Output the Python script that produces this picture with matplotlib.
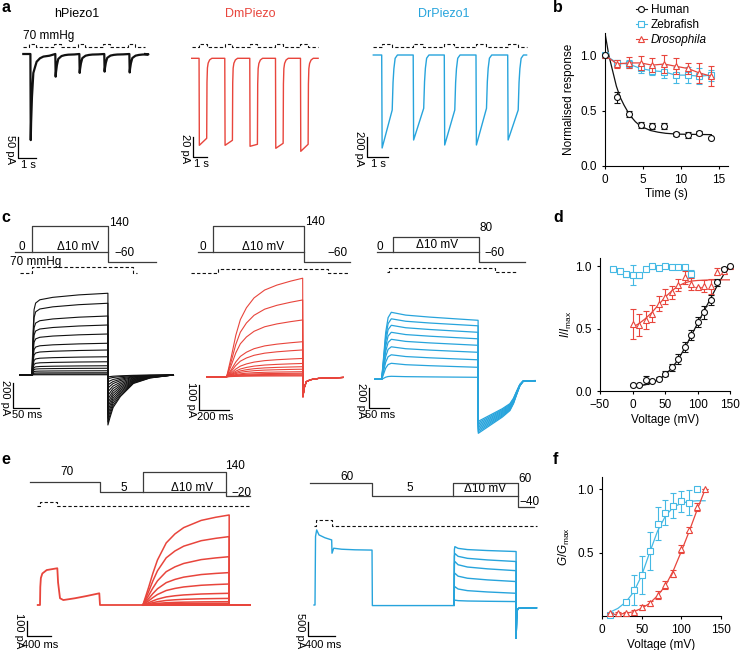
import matplotlib.pyplot as plt
from matplotlib.lines import Line2D

plt.rcParams.update({
    "font.family": ["Liberation Sans", "DejaVu Sans"],
    "font.size": 8.5,
    "axes.linewidth": 0.8,
    "xtick.major.width": 0.8,
    "ytick.major.width": 0.8,
    "xtick.major.size": 2.5,
    "ytick.major.size": 2.5,
    "xtick.labelsize": 8.5,
    "ytick.labelsize": 8.5,
    "mathtext.fontset": "custom",
    "mathtext.rm": "Liberation Sans",
    "mathtext.it": "Liberation Sans:italic",
})

BLACK = "#111111"
RED = "#E8453C"
BLUE = "#27A4DC"
CYAN = "#45B9E4"
PROT = "#3c3c3c"

# ── panel a: pressure pulse trains (s, pA) ────────────────────────────────────
A_H_ON = [0.31, 1.75, 3.14, 4.58, 6.03]
A_H_PEAK = [-205, -54, -45, -42, -44]
A_H_SHAPE_T = [0, 0.02, 0.04, 0.09, 0.17, 0.27, 0.36, 0.55, 0.75, 1.1]
A_H_SHAPE_F = [0, 1.0, 0.8, 0.5, 0.22, 0.15, 0.09, 0.05, 0.03, 0.02]

A_D_ON = [0.50, 2.25, 3.95, 5.70, 7.40]
A_D_START = [-87, -87, -88, -90, -93]
A_D_END = [-80, -82, -86, -85, -86]
A_D_REC_T = [0, 0.02, 0.05, 0.1, 0.2, 0.35]
A_D_REC_F = [1, 0.3, 0.12, 0.06, 0.02, 0]

A_R_ON = [0.40, 1.90, 3.38, 4.89, 6.40]
A_R_BOTTOM = [-930, -850, -900, -900, -850]
A_R_END = [-550, -533, -550, -533, -550]
A_R_REC_T = [0, 0.04, 0.08, 0.14, 0.25]
A_R_REC_F = [1, 0.5, 0.25, 0.06, 0]

# ── panel b: desensitisation (s, normalised) ──────────────────────────────────
B_T = [0, 1.6, 3.1, 4.7, 6.2, 7.8, 9.3, 10.9, 12.4, 14.0]
B_HUMAN = [1.0, 0.62, 0.47, 0.37, 0.36, 0.36, 0.29, 0.28, 0.30, 0.25]
B_HUMAN_ERR = [0, 0.05, 0.03, 0.03, 0.03, 0.03, 0.02, 0.03, 0.02, 0]
B_ZEBRA = [1.0, 0.93, 0.92, 0.88, 0.86, 0.85, 0.82, 0.82, 0.81, 0.82]
B_ZEBRA_ERR = [0, 0.03, 0.04, 0.04, 0.04, 0.06, 0.07, 0.07, 0.07, 0.05]
B_FLY = [1.0, 0.92, 0.93, 0.93, 0.91, 0.92, 0.90, 0.88, 0.84, 0.81]
B_FLY_ERR = [0, 0.04, 0.05, 0.06, 0.06, 0.08, 0.07, 0.05, 0.09, 0.09]
B_FIT_T = [0, 0.5, 1, 1.5, 2, 2.5, 3, 3.5, 4, 4.5, 5, 6, 7, 8, 9, 10, 12, 14]
B_FIT = [1.20, 1.00, 0.86, 0.72, 0.62, 0.55, 0.49, 0.44, 0.40, 0.37, 0.35,
         0.32, 0.305, 0.295, 0.29, 0.287, 0.285, 0.283]

# ── panel c: voltage families (ms, pA) ────────────────────────────────────────
C_K_END = [654, 574, 472, 400, 328, 254, 200, 146, 106, 74, 54, 34, 18, 8, 2]
C_K_TAIL = [-400, -375, -345, -315, -285, -255, -225, -195, -165, -135,
            -105, -80, -55, -30, -15]
C_K_RISE_T = [0, 2, 4, 7, 15, 40, 90, 146]
C_K_RISE_F = [0, 0.5, 0.8, 0.88, 0.92, 0.95, 0.98, 1.0]
C_K_TAIL_T = [0, 4, 10, 24, 49, 81, 126]
C_K_TAIL_F = [1, 0.85, 0.65, 0.43, 0.17, 0.06, 0]

C_R_END = [394, 307, 227, 140, 107, 73, 53, 40, 30, 20, 14, 10, 6, 3]
C_R_RISE_T = [0, 30, 60, 90, 130, 180, 250, 330, 420, 500]
C_R_RISE_F = [0, 0.2, 0.42, 0.58, 0.70, 0.80, 0.88, 0.93, 0.97, 1.0]
C_R_TAIL_T = [0, 8, 22, 50, 100, 265]
C_R_TAIL = [-80, -45, -20, -12, -7, -3]

C_B_PEAK = [670, 605, 540, 470, 400, 325, 245, 160, 30]
C_B_END = [590, 535, 470, 405, 340, 270, 195, 120, 20]
C_B_T = [0, 5, 10, 16, 24, 60, 120, 180, 241]
C_B_RISE = [0, 0.35, 0.7, 0.92, 1, 1, 1, 1, 1]
C_B_SAG = [0, 0, 0, 0, 0, 0.35, 0.6, 0.8, 1]
C_B_TAIL = [-540, -525, -510, -495, -480, -465, -450, -435, -420]
C_B_TAIL_T = [0, 20, 40, 60, 79, 88, 96, 104, 112, 142]
C_B_TAIL_F = [1, 0.9, 0.8, 0.7, 0.58, 0.45, 0.28, 0.12, 0.04, 0.03]

# ── panel d: I/Imax vs voltage ────────────────────────────────────────────────
D_V = [0, 10, 20, 30, 40, 50, 60, 70, 80, 90, 100, 110, 120, 130, 140, 150]
D_HUMAN = [0.05, 0.05, 0.09, 0.08, 0.10, 0.14, 0.19, 0.26, 0.35, 0.45, 0.55,
           0.63, 0.73, 0.87, 0.98, 1.0]
D_HUMAN_ERR = [0.01, 0.01, 0.03, 0.01, 0.01, 0.02, 0.03, 0.04, 0.04, 0.04,
               0.04, 0.05, 0.04, 0.03, 0.01, 0]
D_HUMAN_FIT = [0.03, 0.04, 0.05, 0.065, 0.09, 0.13, 0.18, 0.25, 0.34, 0.44,
               0.54, 0.64, 0.74, 0.84, 0.93, 1.01]
D_FISH_V = [-30, -20, -10, 0, 10, 20, 30, 40, 50, 60, 70, 80, 90]
D_FISH = [0.975, 0.963, 0.936, 0.93, 0.925, 0.976, 1.0, 0.986, 1.0, 0.994,
          0.99, 0.99, 0.936]
D_FISH_ERR = [0.01, 0.01, 0.02, 0.08, 0.02, 0.01, 0.02, 0.01, 0.01, 0.01,
              0.01, 0.01, 0.03]
D_FLY = [0.54, 0.53, 0.57, 0.62, 0.70, 0.755, 0.79, 0.85, 0.91, 0.855, 0.83,
         0.84, 0.84, 0.955, 0.96, 1.0]
D_FLY_ERR = [0.12, 0.09, 0.07, 0.07, 0.06, 0.06, 0.05, 0.05, 0.05, 0.05, 0.0,
             0.05, 0.06, 0.03, 0.02, 0.0]
D_FLY_FIT_V = [0, 10, 20, 30, 40, 50, 60, 70, 80, 90, 100, 120, 150]
D_FLY_FIT = [0.51, 0.54, 0.58, 0.63, 0.69, 0.75, 0.80, 0.84, 0.865, 0.88,
             0.885, 0.89, 0.89]

# ── panel e: prepulse protocols (ms, pA) ──────────────────────────────────────
E_R_PRE_T = [-39, 0, 5, 15, 40, 115, 297, 310, 343, 400, 600, 800, 1017, 1029, 1765]
E_R_PRE_I = [0, 0, 120, 180, 210, 233, 245, 150, 45, 33, 45, 60, 78, 0, 0]
E_R_END = [600, 456, 322, 216, 140, 78, 44, 22, 11, 5, 2, 0, 0, 0]
E_R_RISE_T = [0, 50, 100, 170, 250, 400, 550, 700, 1000, 1250, 1480]
E_R_RISE_F = [0, 0.1, 0.2, 0.35, 0.5, 0.69, 0.79, 0.86, 0.94, 0.975, 1.0]

E_B_PRE_T = [-15, 0, 8, 25, 60, 150, 250, 255, 280, 400, 600, 855, 860, 900, 2085]
E_B_PRE_I = [0, 0, 2400, 2625, 2450, 2350, 2275, 1810, 1985, 1950, 1930, 1920,
             -20, -20, -20]
E_B_PEAK = [2040, 1800, 1520, 1110, 640, 170]
E_B_END = [1870, 1520, 1200, 820, 410, 120]
E_B_T = [0, 5, 12, 60, 200, 500, 930]
E_B_RISE = [0, 0.95, 1, 1, 1, 1, 1]
E_B_SAG = [0, 0, 0, 0.35, 0.6, 0.8, 1]
E_B_TAIL_T = [0, 8, 20, 40, 305]
E_B_TAIL = [-1165, -500, -150, -115, -100]

# ── panel f: G/Gmax vs voltage ────────────────────────────────────────────────
F_V = [10, 20, 30, 40, 50, 60, 70, 80, 90, 100, 110, 120, 130]
F_FLY = [0.02, 0.025, 0.02, 0.035, 0.07, 0.10, 0.165, 0.245, 0.335, 0.53, 0.68, 0.86, 1.0]
F_FLY_ERR = [0.0, 0.01, 0.01, 0.01, 0.02, 0.02, 0.03, 0.03, 0.03, 0.03, 0.02, 0.03, 0.0]
F_FLY_FIT = [0.01, 0.015, 0.02, 0.035, 0.06, 0.10, 0.16, 0.24, 0.36, 0.51, 0.67, 0.84, 1.0]
F_FISH_V = [10, 30, 40, 50, 60, 70, 80, 90, 100, 110, 120]
F_FISH = [0.01, 0.11, 0.205, 0.325, 0.515, 0.73, 0.815, 0.87, 0.905, 0.895, 1.0]
F_FISH_ERR = [0.0, 0.0, 0.12, 0.15, 0.15, 0.13, 0.10, 0.10, 0.08, 0.10, 0.0]
F_FISH_FIT = [0.03, 0.06, 0.11, 0.19, 0.32, 0.50, 0.67, 0.79, 0.86, 0.89, 0.905, 0.91, 0.91]

# ── figure + helpers (positions in pixels from the top-left) ─────────────────
W, H = 740, 650
fig = plt.figure(figsize=(W / 100, H / 100), dpi=100)
ov = fig.add_axes([0, 0, 1, 1])
ov.set_xlim(0, W)
ov.set_ylim(H, 0)
ov.axis("off")


def trace_axes(box, origin, scale):
    x0, y0, x1, y1 = box
    ax = fig.add_axes([x0 / W, 1 - y1 / H, (x1 - x0) / W, (y1 - y0) / H])
    ox, oy = origin
    sx, sy = scale
    ax.set_xlim((x0 - ox) / sx, (x1 - ox) / sx)
    ax.set_ylim((oy - y1) / sy, (oy - y0) / sy)
    ax.axis("off")
    return ax


def graph_axes(x0, x1, y0, y1):
    ax = fig.add_axes([x0 / W, 1 - y1 / H, (x1 - x0) / W, (y1 - y0) / H])
    ax.spines[["top", "right"]].set_visible(False)
    ax.patch.set_alpha(0)
    return ax


def txt(x, y, s, **kw):
    kw.setdefault("ha", "center")
    kw.setdefault("va", "center")
    ov.text(x, y, s, **kw)


def scale_bar(x, y, wpx, hpx, xlab, ylab, below=7):
    ov.plot([x, x, x + wpx], [y - hpx, y, y], color="black", lw=0.9)
    txt(x + wpx / 2 + 1, y + below, xlab, fontsize=8)
    txt(x - 8, y - hpx / 2 + 2, ylab, fontsize=8, rotation=-90)


def stim(ax, on, width, t0, t1, lo, hi):
    xs, ys = [t0], [lo]
    for t in on:
        xs += [t, t, t + width, t + width]
        ys += [lo, hi, hi, lo]
    xs.append(t1)
    ys.append(lo)
    ax.plot(xs, ys, color=BLACK, lw=0.8, ls=(0, (3, 2)))


def protocol(ax, edges, levels, box_on, top, tail, t_end):
    xs, ys = [], []
    for a, b, v in zip(edges[:-1], edges[1:], levels):
        xs += [a, b]
        ys += [v, v]
    ax.plot(xs, ys, color=PROT, lw=0.9)
    off = edges[-1]
    ax.plot([box_on, box_on, off, off, t_end], [levels[-1], top, top, tail, tail],
            color=PROT, lw=0.9)


def pressure(ax, edges, levels):
    xs, ys = [], []
    for a, b, v in zip(edges[:-1], edges[1:], levels):
        xs += [a, b]
        ys += [v, v]
    ax.plot(xs, ys, color=BLACK, lw=0.8, ls=(0, (3, 2)))


# ── a ─────────────────────────────────────────────────────────────────────────
HS = (17.3, 0.42)
ax = trace_axes((0, 30, 165, 170), (24, 54), HS)
t, i = [-0.04], [0]
for on, pk in zip(A_H_ON, A_H_PEAK):
    t += [on + 0.06 + dt for dt in A_H_SHAPE_T]
    i += [pk * f for f in A_H_SHAPE_F]
t.append(7.0)
i.append(0)
ax.plot(t, i, color=BLACK, lw=1.6)
stim(ax, A_H_ON, 0.4, -0.04, 7.0, 6.7 / HS[1], 10 / HS[1])

DS = (14.7, 1.0)
ax = trace_axes((175, 30, 340, 170), (191.7, 58.3), DS)
t, i = [0], [0]
for on, a0, a1 in zip(A_D_ON, A_D_START, A_D_END):
    off = on + 0.52
    t += [on, on + 0.02, off] + [off + dt for dt in A_D_REC_T[1:]]
    i += [0, a0, a1] + [a1 * f for f in A_D_REC_F[1:]]
t.append(8.6)
i.append(0)
ax.plot(t, i, color=RED, lw=1.0)
stim(ax, A_D_ON, 0.52, 0, 8.6, 11 / DS[1], 14.3 / DS[1])

RS = (21.0, 0.1)
ax = trace_axes((350, 30, 540, 170), (373.3, 55), RS)
t, i = [0], [0]
for on, a0, a1 in zip(A_R_ON, A_R_BOTTOM, A_R_END):
    off = on + 0.5
    t += [on, on + 0.02, off] + [off + dt for dt in A_R_REC_T[1:]]
    i += [0, a0, a1] + [a1 * f for f in A_R_REC_F[1:]]
t.append(7.3)
i.append(0)
ax.plot(t, i, color=BLUE, lw=1.0)
stim(ax, A_R_ON, 0.48, 0, 7.3, 7.7 / RS[1], 11 / RS[1])

txt(77, 14, "hPiezo1", fontsize=9)
txt(250, 14, "DmPiezo", fontsize=9, color=RED)
txt(444, 14, "DrPiezo1", fontsize=9, color=BLUE)
txt(23, 36, "70 mmHg", ha="left")
scale_bar(18.3, 158.3, 1 * HS[0], 50 * HS[1], "1 s", "50 pA")
scale_bar(192.7, 157, 1 * DS[0], 20 * DS[1], "1 s", "20 pA")
scale_bar(367, 157, 1 * RS[0], 200 * RS[1], "1 s", "200 pA")

# ── b ─────────────────────────────────────────────────────────────────────────
ax = graph_axes(605, 728, 33, 166)
ax.plot(B_FIT_T, B_FIT, color=BLACK, lw=0.9, zorder=2)
err_kw = dict(ms=4.3, mew=0.8, mfc="white", capsize=2, elinewidth=0.8,
              capthick=0.8, lw=0.9, clip_on=False)
ax.errorbar(B_T, B_ZEBRA, yerr=B_ZEBRA_ERR, fmt="-s", color=CYAN, zorder=3, **err_kw)
ax.errorbar(B_T, B_FLY, yerr=B_FLY_ERR, fmt="-^", color=RED, zorder=4, **err_kw)
ax.errorbar(B_T, B_HUMAN, yerr=B_HUMAN_ERR, fmt="o", color=BLACK, zorder=5, **err_kw)
ax.set_xlim(0, 16.2)
ax.set_ylim(0, 1.2)
ax.set_xticks([0, 5, 10, 15])
ax.set_yticks([0, 0.5, 1.0])
ax.set_yticklabels(["0.0", "0.5", "1.0"])
ax.set_xlabel("Time (s)", labelpad=1.5)
ax.set_ylabel("Normalised response", labelpad=4)
handles = [
    Line2D([], [], color=BLACK, marker="o", mfc="white", ms=4.3, mew=0.8, lw=0.8),
    Line2D([], [], color=CYAN, marker="s", mfc="white", ms=4.3, mew=0.8, lw=0.8),
    Line2D([], [], color=RED, marker="^", mfc="white", ms=4.3, mew=0.8, lw=0.8),
]
leg = fig.legend(handles, ["Human", "Zebrafish", "Drosophila"], loc="upper left",
                 bbox_to_anchor=(636 / W, 1 - 4 / H), frameon=False,
                 handlelength=0.9, handletextpad=0.35, labelspacing=0.25,
                 borderpad=0, borderaxespad=0, fontsize=8.5)
leg.get_texts()[2].set_style("italic")

# ── c ─────────────────────────────────────────────────────────────────────────
box = (0, 215, 185, 445)
ax = trace_axes(box, (32, 251.7), (0.52, 0.18))
protocol(ax, [-33, 146], [0], 0, 140, -60, 238)
ax = trace_axes(box, (32, 273.3), (0.52, 6 / 70))
pressure(ax, [-23, 0, 195, 201], [0, 70, 0])
ax = trace_axes(box, (32, 375), (0.52, 0.125))
for amp, tail in zip(C_K_END, C_K_TAIL):
    t = [-23] + C_K_RISE_T + [146 + dt for dt in C_K_TAIL_T] + [272]
    i = [0] + [amp * f for f in C_K_RISE_F] + [tail * f for f in C_K_TAIL_F] + [0]
    ax.plot(t, i, color=BLACK, lw=0.8)

box = (185, 215, 360, 445)
ax = trace_axes(box, (213.3, 251.7), (0.152, 0.18))
protocol(ax, [-99, 597], [0], 0, 140, -60, 899)
ax = trace_axes(box, (213.3, 273.3), (0.152, 4 / 70))
pressure(ax, [-149, 33, 757, 888], [0, 70, 0])
ax = trace_axes(box, (213.3, 376.7), (0.152, 0.25))
for amp in C_R_END:
    t = [-43] + [88 + dt for dt in C_R_RISE_T] + [590 + dt for dt in C_R_TAIL_T]
    i = [0] + [amp * f for f in C_R_RISE_F] + C_R_TAIL
    ax.plot(t, i, color=RED, lw=0.8)

box = (360, 215, 545, 445)
ax = trace_axes(box, (381.7, 251.7), (0.4, 0.18))
protocol(ax, [-12.5, 244], [0], 29, 80, -60, 358)
ax = trace_axes(box, (381.7, 271.7), (0.4, 3.4 / 70))
pressure(ax, [12.5, 19, 283, 337.5], [0, 70, 0])
ax = trace_axes(box, (381.7, 379.3), (0.4, 0.1))
for pk, end, tail in zip(C_B_PEAK, C_B_END, C_B_TAIL):
    t = [-17] + C_B_T + [241.5 + dt for dt in C_B_TAIL_T]
    i = ([0] + [pk * r - (pk - end) * s for r, s in zip(C_B_RISE, C_B_SAG)]
         + [tail * f for f in C_B_TAIL_F])
    ax.plot(t, i, color=BLUE, lw=0.9)

for x, y, s in [(21.7, 247, "0"), (78, 247, "Δ10 mV"), (119, 223, "140"),
                (125, 253, "\u221260"), (203, 247, "0"), (263, 247, "Δ10 mV"),
                (315, 221.7, "140"), (338, 253.3, "\u221260"), (380, 247, "0"),
                (436.7, 245, "Δ10 mV"), (486, 228.3, "80"), (495, 253.3, "\u221260")]:
    txt(x, y, s)
txt(10.5, 262, "70 mmHg", ha="left")
scale_bar(13.3, 408.3, 50 * 0.52, 200 * 0.125, "50 ms", "200 pA")
scale_bar(199, 410, 200 * 0.152, 100 * 0.25, "200 ms", "100 pA")
scale_bar(369.3, 408.3, 50 * 0.4, 200 * 0.1, "50 ms", "200 pA")

# ── d ─────────────────────────────────────────────────────────────────────────
ax = graph_axes(600, 730, 258, 391)
ax.plot(D_V, D_HUMAN_FIT, color=BLACK, lw=0.9, zorder=2)
ax.plot(D_FLY_FIT_V, D_FLY_FIT, color=RED, lw=0.9, zorder=2)
ax.errorbar(D_FISH_V, D_FISH, yerr=D_FISH_ERR, fmt="s", color=CYAN, zorder=3, **err_kw)
ax.errorbar(D_V, D_FLY, yerr=D_FLY_ERR, fmt="^", color=RED, zorder=4, **err_kw)
ax.errorbar(D_V, D_HUMAN, yerr=D_HUMAN_ERR, fmt="o", color=BLACK, zorder=5, **err_kw)
ax.set_xlim(-50, 150)
ax.set_ylim(0, 1.065)
ax.set_xticks([-50, 0, 50, 100, 150])
ax.set_yticks([0, 0.5, 1.0])
ax.set_yticklabels(["0.0", "0.5", "1.0"])
ax.set_xlabel("Voltage (mV)", labelpad=2)
ax.set_ylabel(r"$I/I_{\rm max}$", labelpad=1)

# ── e ─────────────────────────────────────────────────────────────────────────
box = (0, 455, 260, 650)
ax = trace_axes(box, (40, 493.1), (0.0583, 0.154))
protocol(ax, [-171, 1029, 3190], [70, 5], 1765, 140, -20, 3600)
ax = trace_axes(box, (40, 505.7), (0.0583, 4 / 70))
pressure(ax, [-46, 0, 297, 3600], [0, 70, 0])
ax = trace_axes(box, (40, 605), (0.0583, 0.15))
ax.plot(E_R_PRE_T, E_R_PRE_I, color=RED, lw=1.3)
for amp in E_R_END:
    t = [1765 + dt for dt in E_R_RISE_T] + [3245, 3600]
    i = [amp * f for f in E_R_RISE_F] + [0, 0]
    ax.plot(t, i, color=RED, lw=1.1)

box = (290, 455, 545, 650)
ax = trace_axes(box, (315, 497.3), (0.0667, 0.234))
protocol(ax, [-75, 859, 3040], [60, 5], 2065, 60, -40, 3285)
ax = trace_axes(box, (315, 526), (0.0667, 6 / 70))
pressure(ax, [-15, 15, 250, 3325], [0, 70, 0])
ax = trace_axes(box, (315, 605), (0.0667, 14.3 / 500))
ax.plot(E_B_PRE_T, E_B_PRE_I, color=BLUE, lw=1.0)
for pk, end in zip(E_B_PEAK, E_B_END):
    t = [2085 + dt for dt in E_B_T] + [3015 + dt for dt in E_B_TAIL_T]
    i = [pk * r - (pk - end) * s for r, s in zip(E_B_RISE, E_B_SAG)] + E_B_TAIL
    ax.plot(t, i, color=BLUE, lw=1.0)

for x, y, s in [(66.7, 471.7, "70"), (123.3, 487.7, "5"), (191.7, 488.3, "Δ10 mV"),
                (235, 466, "140"), (241.7, 492.7, "\u221220"), (346.7, 477.3, "60"),
                (409.3, 488.3, "5"), (485, 489, "Δ10 mV"), (525, 479.3, "60"),
                (530, 501.7, "\u221240")]:
    txt(x, y, s)
scale_bar(27.3, 636, 400 * 0.0583, 100 * 0.15, "400 ms", "100 pA", below=9)
scale_bar(308.3, 636, 400 * 0.0667, 14.3, "400 ms", "500 pA", below=9)

# ── f ─────────────────────────────────────────────────────────────────────────
ax = graph_axes(602, 721, 476.7, 616)
ax.plot(F_V, F_FISH_FIT, color=CYAN, lw=0.9, zorder=2)
ax.plot(F_V, F_FLY_FIT, color=RED, lw=0.9, zorder=2)
ax.errorbar(F_FISH_V, F_FISH, yerr=F_FISH_ERR, fmt="s", color=CYAN, zorder=3, **err_kw)
ax.errorbar(F_V, F_FLY, yerr=F_FLY_ERR, fmt="^", color=RED, zorder=4, **err_kw)
ax.set_xlim(0, 150)
ax.set_ylim(0, 1.1)
ax.set_xticks([0, 50, 100, 150])
ax.set_yticks([0.5, 1.0])
ax.set_yticklabels(["0.5", "1.0"])
ax.set_xlabel("Voltage (mV)", labelpad=2)
ax.set_ylabel(r"$G/G_{\rm max}$", labelpad=4)

# ── panel letters ─────────────────────────────────────────────────────────────
for x, y, s in [(1, 8, "a"), (553, 8, "b"), (1, 218, "c"), (553, 217, "d"),
                (1, 460, "e"), (553, 460, "f")]:
    txt(x, y, s, ha="left", fontsize=11.5, fontweight="bold")

fig.savefig("out.png", dpi=100)
